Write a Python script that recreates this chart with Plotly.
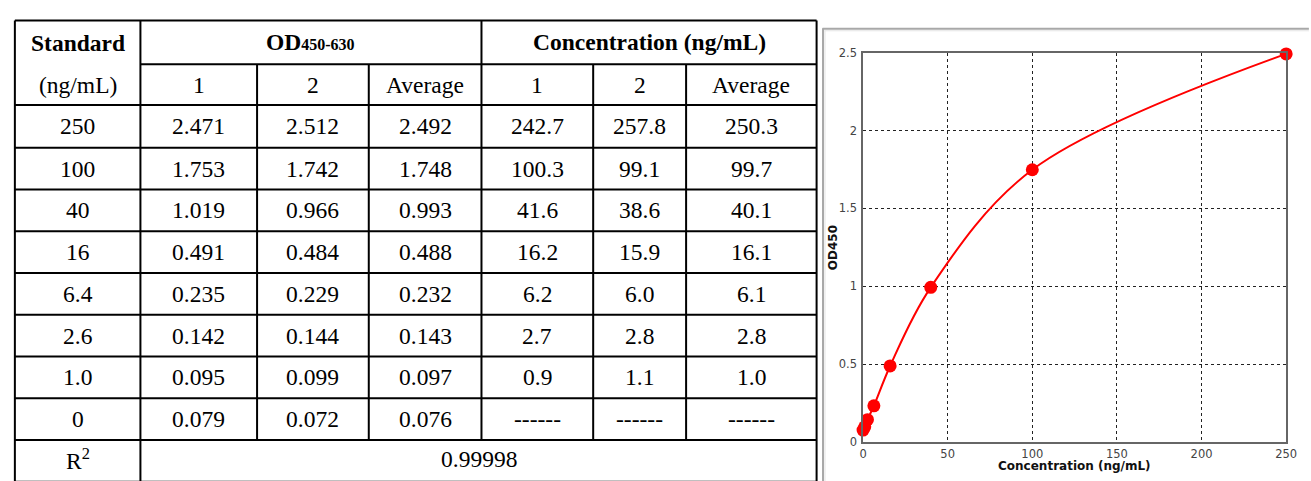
import plotly.graph_objects as go

W, H = 1311, 481

# ---------------- data ----------------
standards = ["250", "100", "40", "16", "6.4", "2.6", "1.0", "0"]
od_rep1 = ["2.471", "1.753", "1.019", "0.491", "0.235", "0.142", "0.095", "0.079"]
od_rep2 = ["2.512", "1.742", "0.966", "0.484", "0.229", "0.144", "0.099", "0.072"]
od_avg = ["2.492", "1.748", "0.993", "0.488", "0.232", "0.143", "0.097", "0.076"]
conc_rep1 = ["242.7", "100.3", "41.6", "16.2", "6.2", "2.7", "0.9", "------"]
conc_rep2 = ["257.8", "99.1", "38.6", "15.9", "6.0", "2.8", "1.1", "------"]
conc_avg = ["250.3", "99.7", "40.1", "16.1", "6.1", "2.8", "1.0", "------"]
r_squared = "0.99998"
sub_headers = ["1", "2", "Average", "1", "2", "Average"]

x_ticks = [0, 50, 100, 150, 200, 250]
y_ticks = [0, 0.5, 1, 1.5, 2, 2.5]
y_tick_text = ["0", "0.5", "1", "1.5", "2", "2.5"]

curve_conc = [float(s) for s in standards][::-1]
curve_od = [float(v) for v in od_avg][::-1]

# ---------------- helpers ----------------
def px(x):
    return x / W

def py(y):
    return 1 - y / H

SERIF = "Liberation Serif, Times New Roman, serif"
SANS = "DejaVu Sans, Arial, sans-serif"
FS = 23.5

fig = go.Figure()

fig.add_trace(go.Scatter(
    x=curve_conc, y=curve_od,
    mode="lines+markers",
    line=dict(color="#ff0000", width=2, shape="spline", smoothing=1.0),
    marker=dict(color="#ff0000", size=13),
    cliponaxis=False,
    showlegend=False,
    hoverinfo="x+y",
))

shapes = []
annotations = []

def hline(y, x0, x1, color="black", width=2):
    shapes.append(dict(type="line", xref="paper", yref="paper",
                       x0=px(x0), x1=px(x1), y0=py(y), y1=py(y),
                       line=dict(color=color, width=width)))

def vline(x, y0, y1, color="black", width=2):
    shapes.append(dict(type="line", xref="paper", yref="paper",
                       x0=px(x), x1=px(x), y0=py(y0), y1=py(y1),
                       line=dict(color=color, width=width)))

def text(x, y, s, bold=False, size=FS, font=SERIF, color="black", angle=0):
    annotations.append(dict(xref="paper", yref="paper", x=px(x), y=py(y),
                            text=("<b>%s</b>" % s) if bold else s,
                            showarrow=False, xanchor="center", yanchor="middle",
                            textangle=angle,
                            font=dict(family=font, size=size, color=color)))

# ---------------- table grid ----------------
col_x = [11, 138, 256, 369, 483, 596, 690, 822]
row_y = [14, 59, 101, 145, 188, 231, 274, 317, 360, 403, 446, 489]

hline(row_y[0], col_x[0], col_x[-1])
hline(row_y[1], col_x[1], col_x[-1])
for y in row_y[2:]:
    hline(y, col_x[0], col_x[-1])

vline(col_x[0], row_y[0], row_y[-1])
vline(col_x[1], row_y[0], row_y[-1])
vline(col_x[4], row_y[0], row_y[-2])
vline(col_x[-1], row_y[0], row_y[-1])
for xi in (2, 3, 5, 6):
    vline(col_x[xi], row_y[1], row_y[-2])

# ---------------- table text ----------------
def cx(i):
    return (col_x[i] + col_x[i + 1]) / 2

def cy(j):
    return (row_y[j] + row_y[j + 1]) / 2

text(cx(0), cy(0) + 1, "Standard", bold=True)
text(cx(0), cy(1), "(ng/mL)")
text((col_x[1] + col_x[4]) / 2, cy(0),
     "<b>OD<span style='font-size:16px'>450-630</span></b>")
text((col_x[4] + col_x[7]) / 2, cy(0), "Concentration (ng/mL)", bold=True)
for i, s in enumerate(sub_headers):
    text(cx(i + 1), cy(1), s)

columns = [standards, od_rep1, od_rep2, od_avg, conc_rep1, conc_rep2, conc_avg]
for r in range(len(standards)):
    for c, col in enumerate(columns):
        text(cx(c), cy(r + 2), col[r])

text(cx(0), cy(10) - 2, "R<sup>2</sup>")
text((col_x[1] + col_x[7]) / 2, cy(10) - 2, r_squared)

# ---------------- chart panel frame ----------------
hline(22.5, 828, 1320, color="#a8a8a8", width=2)
vline(828.5, 22, 490, color="#a8a8a8", width=2)
hline(24.5, 830, 1320, color="#e4e4e4", width=1)
vline(830.5, 24, 490, color="#e4e4e4", width=1)

# axis titles
text(1083, 473, "Concentration (ng/mL)", bold=True, size=12, font=SANS, color="#111")
text(838, 248, "OD450", bold=True, size=12, font=SANS, color="#111", angle=-90)

axis_common = dict(
    showline=True, mirror=True, linecolor="#666666", linewidth=1.5,
    showgrid=True, gridcolor="#222222", gridwidth=1, griddash="3px,3px",
    zeroline=False, ticks="", fixedrange=True,
    tickfont=dict(family=SANS, size=11.5, color="#444444"),
)

fig.update_layout(
    width=W, height=H,
    margin=dict(l=0, r=0, t=0, b=0),
    paper_bgcolor="white", plot_bgcolor="white",
    shapes=shapes, annotations=annotations,
    xaxis=dict(domain=[px(869), px(1297)], range=[0, 250],
               tickmode="array", tickvals=x_ticks,
               ticktext=[str(v) for v in x_ticks], **axis_common),
    yaxis=dict(domain=[py(448), py(47)], range=[0, 2.5],
               tickmode="array", tickvals=y_ticks,
               ticktext=y_tick_text,
               ticklabelstandoff=2, **axis_common),
)

fig.write_html(
    "out.html",
    config={"displayModeBar": False},
    post_script="document.body.style.margin='0';document.body.style.overflow='hidden';",
)
